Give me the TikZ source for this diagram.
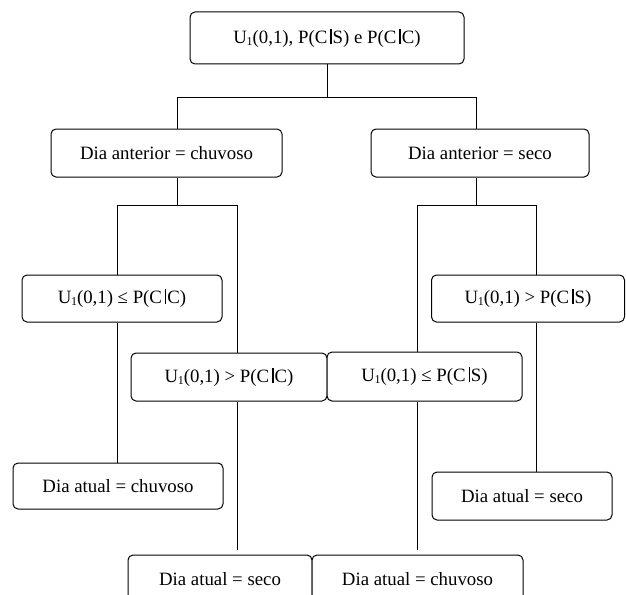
\documentclass[tikz,border=0pt]{standalone}
\usepackage{fontspec}
\setmainfont{Liberation Serif}
\newcommand\gbar{\kern0.16em\rule[-0.02em]{0.075em}{0.78em}\kern0.05em}
\newcommand\usub{U\kern-0.02em\raisebox{-0.1em}{\fontsize{12pt}{12pt}\selectfont 1}}
\begin{document}
\begin{tikzpicture}[x=1pt,y=-1pt,
  box/.style={draw,line width=1pt,rounded corners=5pt,fill=white,inner sep=0pt,
    font=\fontsize{18.8pt}{22pt}\selectfont},
  conn/.style={line width=1pt}]
\useasboundingbox (0,0) rectangle (626,594);
\clip (0,0) rectangle (626,594);
% boxes
\node[box,minimum width=274pt,minimum height=52pt] (top) at (327,38) {\usub(0,1), P(C\gbar S) e P(C\gbar C)};
\node[box,minimum width=231pt,minimum height=48pt] (L1) at (166.5,153) {Dia anterior = chuvoso};
\node[box,minimum width=218pt,minimum height=48pt] (R1) at (480,153) {Dia anterior = seco};
\node[box,minimum width=200pt,minimum height=47pt] (A) at (122,298.5) {\usub(0,1) ≤ P(C\gbar C)};
\node[box,minimum width=196pt,minimum height=48pt] (B) at (229,377) {\usub(0,1) > P(C\gbar C)};
\node[box,minimum width=195pt,minimum height=49pt] (C) at (424.5,376.5) {\usub(0,1) ≤ P(C\gbar S)};
\node[box,minimum width=193pt,minimum height=47pt] (D) at (528,298.5) {\usub(0,1) > P(C\gbar S)};
\node[box,minimum width=210pt,minimum height=46pt] (E) at (118,486) {Dia atual = chuvoso};
\node[box,minimum width=180pt,minimum height=48pt] (F) at (522,496) {Dia atual = seco};
\node[box,minimum width=184pt,minimum height=48pt] (G) at (220,579) {Dia atual = seco};
\node[box,minimum width=211pt,minimum height=48pt] (H) at (417.5,579) {Dia atual = chuvoso};
% junction coordinates
\coordinate (j0) at (327,97);
\coordinate (jL) at (177,97);
\coordinate (jR) at (476,97);
\coordinate (fL) at (177,205);
\coordinate (f1) at (117,205);
\coordinate (f2) at (237,205);
\coordinate (fR) at (476,205);
\coordinate (f3) at (417,205);
\coordinate (f4) at (536,205);
\coordinate (c1) at (237,550);
\coordinate (c2) at (417,550);
% connectors
\draw[conn] (top.south) -- (j0);
\draw[conn] (L1.north -| jL) -- (jL) -- (jR) -- (R1.north -| jR);
\draw[conn] (L1.south -| fL) -- (fL);
\draw[conn] (A.north -| f1) -- (f1) -- (f2) -- (B.north -| f2);
\draw[conn] (A.south -| f1) -- (E.north -| f1);
\draw[conn] (B.south -| f2) -- (c1);
\draw[conn] (R1.south -| fR) -- (fR);
\draw[conn] (C.north -| f3) -- (f3) -- (f4) -- (D.north -| f4);
\draw[conn] (D.south -| f4) -- (F.north -| f4);
\draw[conn] (C.south -| f3) -- (c2);
\end{tikzpicture}
\end{document}
